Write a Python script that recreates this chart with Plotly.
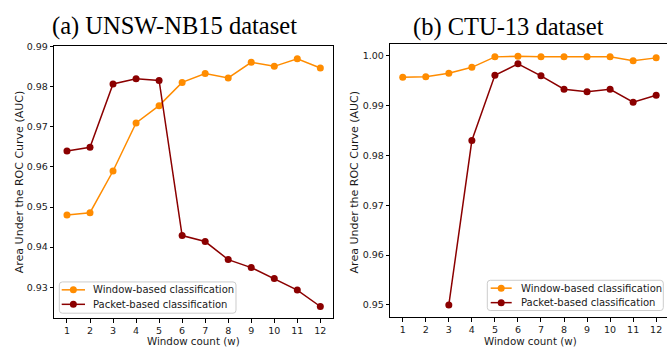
import plotly.graph_objects as go

# ---- data ----
windows = list(range(1, 13))
unsw_window = [0.9480, 0.9486, 0.9590, 0.9710, 0.9753, 0.9811, 0.9833, 0.9822, 0.9861, 0.9851, 0.9870, 0.9847]
unsw_packet = [0.9640, 0.9649, 0.9807, 0.9820, 0.9816, 0.9429, 0.9414, 0.9369, 0.9349, 0.9322, 0.9293, 0.9252]
ctu_window = [0.9957, 0.9958, 0.9965, 0.9977, 0.9998, 0.9999, 0.9998, 0.9998, 0.9998, 0.9998, 0.9990, 0.9996]
ctu_windows_packet = list(range(3, 13))
ctu_packet = [0.9500, 0.9830, 0.9961, 0.9984, 0.9960, 0.9933, 0.9928, 0.9933, 0.9907, 0.9921]
left_yticks = [0.93, 0.94, 0.95, 0.96, 0.97, 0.98, 0.99]
right_yticks = [0.95, 0.96, 0.97, 0.98, 0.99, 1.00]
right_yticklabels = ["0.95", "0.96", "0.97", "0.98", "0.99", "1.00"]
series_names = ["Window-based classification", "Packet-based classification"]

ORANGE = "#FF8C00"
DARKRED = "#8B0000"
W, H = 667, 347
TXT = "#1a1a1a"
TICKFONT = dict(family="DejaVu Sans", size=9.5, color=TXT)

fig = go.Figure()

def add(x, y, color, name, xa, ya):
    fig.add_trace(go.Scatter(
        x=x, y=y, mode="lines+markers", name=name, showlegend=False,
        line=dict(color=color, width=1.5),
        marker=dict(color=color, size=7),
        xaxis=xa, yaxis=ya))

add(windows, unsw_window, ORANGE, series_names[0], "x", "y")
add(windows, unsw_packet, DARKRED, series_names[1], "x", "y")
add(windows, ctu_window, ORANGE, series_names[0], "x2", "y2")
add(ctu_windows_packet, ctu_packet, DARKRED, series_names[1], "x2", "y2")

def px(v):
    return v / W

def py(v):
    return (H - v) / H

axis_common = dict(showgrid=False, zeroline=False, showline=True, linecolor="black",
                   linewidth=1, ticks="outside", ticklen=3.5, tickwidth=0.8,
                   tickcolor="black", tickfont=TICKFONT)

fig.update_layout(
    width=W, height=H, margin=dict(l=0, r=0, t=0, b=0),
    plot_bgcolor="white", paper_bgcolor="white", showlegend=False,
    xaxis=dict(domain=[px(54.3), px(333)], range=[0.45, 12.55], tickmode="array",
               tickvals=windows, mirror=True, anchor="y", **axis_common),
    yaxis=dict(domain=[py(317.7), py(41.7)], range=[0.9223, 0.99015], tickmode="array",
               tickvals=left_yticks, tickformat=".2f", mirror=True, anchor="x", **axis_common),
    xaxis2=dict(domain=[px(390.3), 1.0], range=[0.46, 12.47], tickmode="array",
                tickvals=windows, mirror=True, anchor="y2", **axis_common),
    yaxis2=dict(domain=[py(316.7), py(40)], range=[0.94754, 1.0023], tickmode="array",
                tickvals=right_yticks, ticktext=right_yticklabels, mirror=False, anchor="x2",
                **axis_common),
)

# ---- manual legends (matplotlib-like) ----
def rounded_rect(x0, y0, x1, y1, r=3):
    def P(x, y):
        return f"{px(x):.5f},{py(y):.5f}"
    return (f"M {P(x0 + r, y0)} L {P(x1 - r, y0)} Q {P(x1, y0)} {P(x1, y0 + r)} "
            f"L {P(x1, y1 - r)} Q {P(x1, y1)} {P(x1 - r, y1)} L {P(x0 + r, y1)} "
            f"Q {P(x0, y1)} {P(x0, y1 - r)} L {P(x0, y0 + r)} Q {P(x0, y0)} {P(x0 + r, y0)} Z")

def legend(box, line_x0, line_x1, text_x, ys):
    x0, y0, x1, y1 = box
    fig.add_shape(type="path", xref="paper", yref="paper", path=rounded_rect(x0, y0, x1, y1),
                  fillcolor="rgba(255,255,255,0.8)", line=dict(color="#cccccc", width=1))
    for color, name, yy in zip([ORANGE, DARKRED], series_names, ys):
        fig.add_shape(type="line", xref="paper", yref="paper", x0=px(line_x0), x1=px(line_x1),
                      y0=py(yy), y1=py(yy), line=dict(color=color, width=1.5))
        cx = (line_x0 + line_x1) / 2
        fig.add_shape(type="circle", xref="paper", yref="paper", xsizemode="pixel", ysizemode="pixel",
                      xanchor=px(cx), yanchor=py(yy), x0=-3.5, x1=3.5, y0=-3.5, y1=3.5,
                      fillcolor=color, line=dict(color=color, width=0))
        fig.add_annotation(text=name, xref="paper", yref="paper", x=px(text_x), y=py(yy),
                           xanchor="left", yanchor="middle", showarrow=False,
                           font=dict(family="DejaVu Sans", size=10, color=TXT))

legend((59.3, 281, 236, 312.7), 61.7, 85, 91.2, (289, 303.7))
legend((487.3, 279.3, 663.3, 310), 490.7, 511.7, 518.8, (287.3, 302))

annots = [
    dict(text="(a) UNSW-NB15 dataset", x=px(174.2), y=py(21), font=dict(family="Liberation Serif", size=24.5, color="black")),
    dict(text="(b) CTU-13 dataset", x=px(508), y=py(22), font=dict(family="Liberation Serif", size=24.5, color="black")),
    dict(text="Area Under the ROC Curve (AUC)", x=px(19.5), y=py(180.3), textangle=-90, font=dict(family="DejaVu Sans", size=11, color=TXT)),
    dict(text="Area Under the ROC Curve (AUC)", x=px(354), y=py(180), textangle=-90, font=dict(family="DejaVu Sans", size=11, color=TXT)),
    dict(text="Window count (w)", x=px(193.8), y=py(340.5), font=dict(family="DejaVu Sans", size=10.3, color=TXT)),
    dict(text="Window count (w)", x=px(530), y=py(340.5), font=dict(family="DejaVu Sans", size=10.3, color=TXT)),
]
for a in annots:
    fig.add_annotation(xref="paper", yref="paper", showarrow=False, xanchor="center", yanchor="middle", **a)

fig.write_html("out.html", config={"displayModeBar": False},
               post_script="document.body.style.margin='0';document.body.style.padding='0';")
